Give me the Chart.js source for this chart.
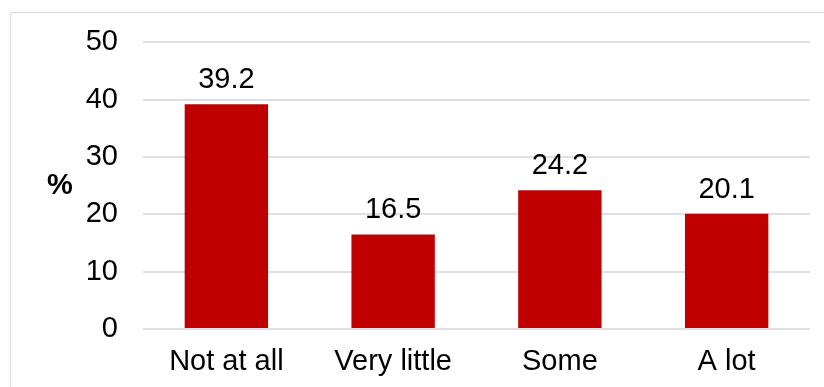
<!DOCTYPE html>
<html>
<head>
<meta charset="utf-8">
<script src="https://cdn.jsdelivr.net/npm/chart.js@4"></script>
<style>
  html, body { margin: 0; padding: 0; background: #fff; }
  #wrap { position: relative; width: 824px; height: 387px; }
</style>
</head>
<body>
<div id="wrap"><canvas id="c" width="824" height="387"></canvas></div>
<script>
const categories = ['Not at all', 'Very little', 'Some', 'A lot'];
const shares = [39.2, 16.5, 24.2, 20.1];
const yTicks = [0, 10, 20, 30, 40, 50];
const axisTitle = '%';

const FONT = "'Liberation Sans', Arial, sans-serif";
const BAR = '#C00000';
const LINE = '#dde1e7';

// Frame lines, value labels and the horizontal "%" title
const decorations = {
  id: 'decorations',
  beforeDraw(chart) {
    const ctx = chart.ctx;
    ctx.save();
    ctx.strokeStyle = LINE;
    ctx.lineWidth = 1.5;
    ctx.beginPath();
    ctx.moveTo(10.5, chart.height);
    ctx.lineTo(10.5, 12.5);
    ctx.lineTo(chart.width, 12.5);
    ctx.stroke();
    ctx.restore();
  },
  afterDatasetsDraw(chart) {
    const ctx = chart.ctx;
    const meta = chart.getDatasetMeta(0);
    ctx.save();
    ctx.fillStyle = '#000';
    ctx.font = '29px ' + FONT;
    ctx.textAlign = 'center';
    ctx.textBaseline = 'alphabetic';
    meta.data.forEach((bar, i) => {
      ctx.fillText(shares[i].toFixed(1), bar.x, bar.y - 16);
    });
    ctx.font = 'bold 29px ' + FONT;
    ctx.textBaseline = 'middle';
    ctx.fillText(axisTitle, 60, 186);
    ctx.restore();
  }
};

new Chart(document.getElementById('c'), {
  type: 'bar',
  data: {
    labels: categories,
    datasets: [{
      data: shares,
      backgroundColor: BAR,
      borderWidth: 0,
      categoryPercentage: 1.0,
      barPercentage: 0.5
    }]
  },
  options: {
    responsive: false,
    animation: false,
    devicePixelRatio: 1,
    layout: { padding: { left: 0, right: 14, top: 42, bottom: 0 } },
    plugins: { legend: { display: false }, tooltip: { enabled: false } },
    scales: {
      x: {
        grid: { display: false, drawTicks: false },
        border: { display: false },
        ticks: { color: '#000', font: { family: FONT, size: 29 }, padding: 16, maxRotation: 0 },
        afterFit(scale) { scale.height = 58; }
      },
      y: {
        min: 0,
        max: 50,
        afterBuildTicks(scale) { scale.ticks = yTicks.map(v => ({ value: v })); },
        grid: { color: LINE, lineWidth: 2, drawTicks: false },
        border: { display: false },
        ticks: { color: '#000', font: { family: FONT, size: 29 }, padding: 25 },
        afterFit(scale) { scale.width = 143; }
      }
    }
  },
  plugins: [decorations]
});
</script>
</body>
</html>
